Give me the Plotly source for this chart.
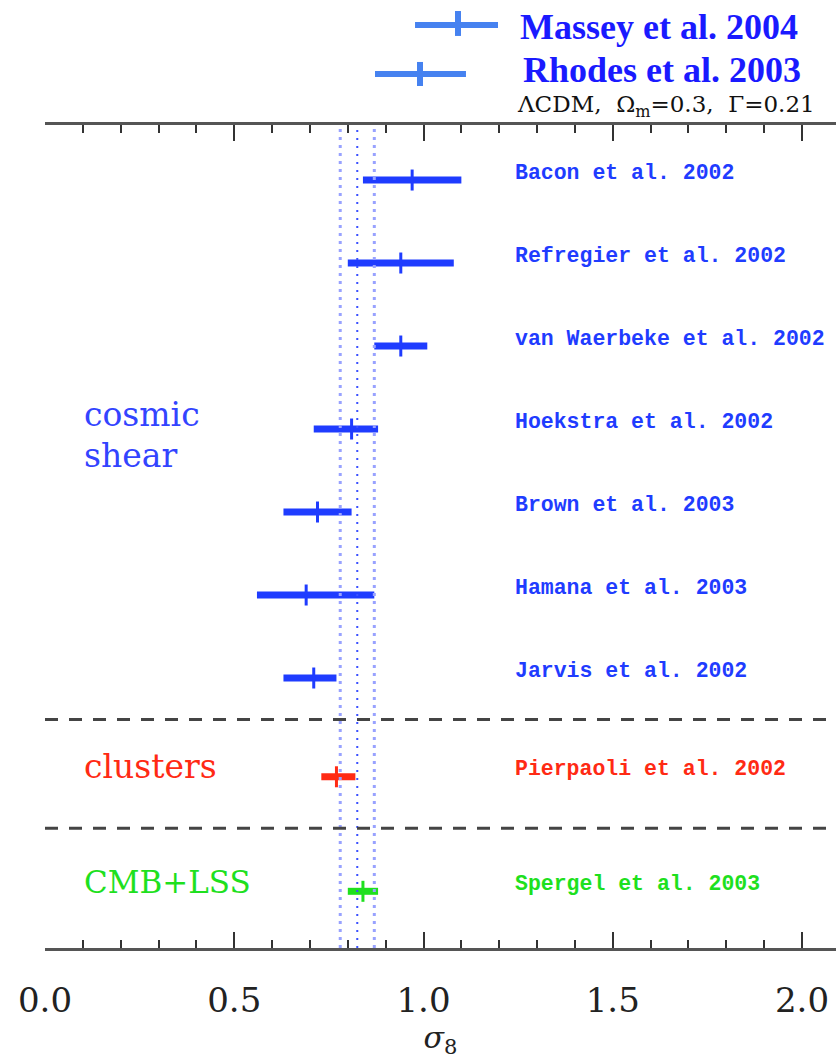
import plotly.graph_objects as go

# ---------------- data ----------------
shear_names = ["Bacon et al. 2002", "Refregier et al. 2002", "van Waerbeke et al. 2002",
               "Hoekstra et al. 2002", "Brown et al. 2003", "Hamana et al. 2003", "Jarvis et al. 2002"]
shear_sigma8 = [0.97, 0.94, 0.94, 0.81, 0.72, 0.69, 0.71]
shear_err_lo = [0.13, 0.14, 0.07, 0.10, 0.09, 0.13, 0.08]
shear_err_hi = [0.13, 0.14, 0.07, 0.07, 0.09, 0.18, 0.06]

cluster_names = ["Pierpaoli et al. 2002"]
cluster_sigma8 = [0.77]
cluster_err_lo = [0.04]
cluster_err_hi = [0.05]

cmb_names = ["Spergel et al. 2003"]
cmb_sigma8 = [0.84]
cmb_err_lo = [0.04]
cmb_err_hi = [0.04]

# reference band (mean and 1-sigma limits)
band_center = 0.825
band_lo = 0.78
band_hi = 0.87

x_tickvals = [0.0, 0.5, 1.0, 1.5, 2.0]
x_ticktext = ["0.0", "0.5", "1.0", "1.5", "2.0"]

legend_names = ["Massey et al. 2004", "Rhodes et al. 2003"]

# ---------------- layout helpers ----------------
shear_rows = [0, 1, 2, 3, 4, 5, 6]
cluster_rows = [7.19]
cmb_rows = [8.57]
separators = [6.5, 7.81]
y_range = [9.253, -0.663]
x_max = 2.0898

BLUE = "#1f3cff"
RED = "#ff2a14"
GREEN = "#1ee01e"

fig = go.Figure()

def add_group(names, vals, lo, hi, rows, color):
    fig.add_trace(go.Scatter(
        x=vals, y=rows, mode="markers",
        marker=dict(symbol="line-ns", size=15, color=color,
                    line=dict(color=color, width=3)),
        error_x=dict(type="data", symmetric=False, array=hi, arrayminus=lo,
                     color=color, thickness=7, width=0),
        showlegend=False, hoverinfo="skip"))
    for n, r in zip(names, rows):
        fig.add_annotation(x=1.236, y=r - 0.09, xref="x", yref="y", text="<b>" + n + "</b>",
                           showarrow=False, xanchor="left", yanchor="middle",
                           font=dict(family="Liberation Mono", size=21.5, color=color))

add_group(shear_names, shear_sigma8, shear_err_lo, shear_err_hi, shear_rows, BLUE)
add_group(cluster_names, cluster_sigma8, cluster_err_lo, cluster_err_hi, cluster_rows, RED)
add_group(cmb_names, cmb_sigma8, cmb_err_lo, cmb_err_hi, cmb_rows, GREEN)

# vertical band lines
for v, col, w, d in [(band_lo, "#98a2ff", 3, "3px,5px"),
                     (band_hi, "#98a2ff", 3, "3px,5px"),
                     (band_center, "#3a50ff", 2, "2px,6px")]:
    fig.add_vline(x=v, line=dict(color=col, width=w, dash=d))

# horizontal separators
for s in separators:
    fig.add_hline(y=s, line=dict(color="#444444", width=3, dash="13px,11px"))

# group labels
grp_font = "DejaVu Serif"
fig.add_annotation(x=0.098, y=2.83, text="cosmic", showarrow=False, xanchor="left",
                   font=dict(family=grp_font, size=33, color="#3344ff"))
fig.add_annotation(x=0.098, y=3.32, text="shear", showarrow=False, xanchor="left",
                   font=dict(family=grp_font, size=33, color="#3344ff"))
fig.add_annotation(x=0.098, y=7.07, text="clusters", showarrow=False, xanchor="left",
                   font=dict(family=grp_font, size=33, color=RED))
fig.add_annotation(x=0.098, y=8.46, text="CMB+LSS", showarrow=False, xanchor="left",
                   font=dict(family=grp_font, size=31, color=GREEN))

# model annotation
fig.add_annotation(x=0.976, y=1.0230, xref="paper", yref="paper",
                   text="ΛCDM,\u00a0\u00a0Ω<sub>m</sub>=0.3,\u00a0\u00a0Γ=0.21", showarrow=False,
                   xanchor="right", yanchor="middle",
                   font=dict(family="DejaVu Serif", size=23, color="#111111"))

# pasted legend glyphs
LG = "#4682f0"
glyphs = [(0.4678, 0.5727, 1.1215, 0.5221, 1.1385, 1.1082),
          (0.4172, 0.5322, 1.0620, 0.4741, 1.0766, 1.0474)]
text_pos = [(0.5980, 1.1191), (0.6018, 1.0668)]
for (x0, x1, yl, xt, yt0, yt1), (tx, ty), name in zip(glyphs, text_pos, legend_names):
    fig.add_shape(type="line", xref="paper", yref="paper", x0=x0, x1=x1, y0=yl, y1=yl,
                  line=dict(color=LG, width=6))
    fig.add_shape(type="line", xref="paper", yref="paper", x0=xt, x1=xt, y0=yt0, y1=yt1,
                  line=dict(color=LG, width=6))
    fig.add_annotation(x=tx, y=ty, xref="paper", yref="paper", text="<b>" + name + "</b>",
                       showarrow=False, xanchor="left", yanchor="middle",
                       font=dict(family="Liberation Serif", size=36, color="#1a1aff"))

fig.update_xaxes(range=[0, x_max], showline=True, linecolor="#555555", linewidth=3,
                 mirror="allticks", ticks="inside", ticklen=16, tickwidth=2, tickcolor="#333333",
                 tickvals=x_tickvals, ticktext=x_ticktext,
                 minor=dict(ticks="inside", ticklen=8, tickwidth=2, tickcolor="#333333",
                            dtick=0.1, tick0=0, showgrid=False),
                 showgrid=False, zeroline=False,
                 tickfont=dict(family="DejaVu Serif", size=34, color="#222222"),
                 ticklabelstandoff=20,
                 title=dict(text="<i>σ</i><sub>8</sub>", standoff=6,
                            font=dict(family="DejaVu Serif", size=30, color="#222222")))
fig.update_yaxes(range=y_range, visible=False, showgrid=False, zeroline=False)

fig.update_layout(width=836, height=1059, margin=dict(l=45, r=0, t=125, b=111),
                  plot_bgcolor="white", paper_bgcolor="white", showlegend=False)

fig.write_html("out.html")
